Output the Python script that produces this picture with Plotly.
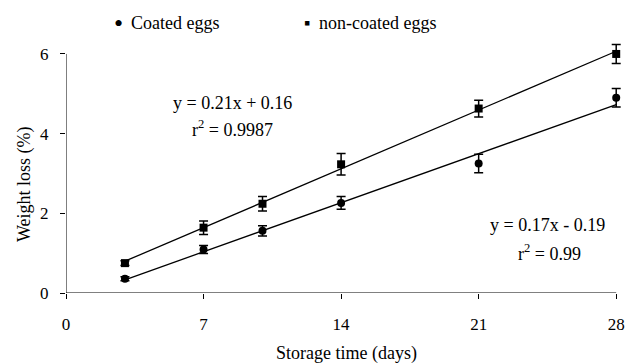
import numpy as np
import plotly.graph_objects as go

# ---- data ----
days = [3, 7, 10, 14, 21, 28]
coated = [0.36, 1.09, 1.56, 2.26, 3.25, 4.90]
coated_err = [0.05, 0.10, 0.13, 0.16, 0.23, 0.23]
non_coated = [0.75, 1.64, 2.24, 3.23, 4.63, 6.00]
non_coated_err = [0.06, 0.17, 0.18, 0.27, 0.21, 0.24]

x_ticks = [0, 7, 14, 21, 28]
y_ticks = [0, 2, 4, 6]

eq_non_coated = ["y = 0.21x + 0.16", "r<sup>2</sup> = 0.9987"]
eq_coated = ["y = 0.17x - 0.19", "r<sup>2</sup> = 0.99"]
series_names = ["Coated eggs", "non-coated eggs"]

FONT = "Liberation Serif, Times New Roman, serif"

# trendlines (least-squares fit of each series, as in the original spreadsheet)
xa = np.array(days, dtype=float)
fit_c = np.polyfit(xa, coated, 1)
fit_n = np.polyfit(xa, non_coated, 1)
x_line = np.array([days[0], days[-1]], dtype=float)

fig = go.Figure()

fig.add_trace(go.Scatter(
    x=x_line, y=np.polyval(fit_n, x_line), mode="lines",
    line=dict(color="black", width=1.3), showlegend=False, hoverinfo="skip"))
fig.add_trace(go.Scatter(
    x=x_line, y=np.polyval(fit_c, x_line), mode="lines",
    line=dict(color="black", width=1.3), showlegend=False, hoverinfo="skip"))

fig.add_trace(go.Scatter(
    x=days, y=non_coated, mode="markers", name=series_names[1],
    marker=dict(symbol="square", size=8, color="black"),
    error_y=dict(type="data", array=non_coated_err, color="black",
                 thickness=1.5, width=4.5),
    showlegend=False, cliponaxis=False))
fig.add_trace(go.Scatter(
    x=days, y=coated, mode="markers", name=series_names[0],
    marker=dict(symbol="circle", size=8, color="black"),
    error_y=dict(type="data", array=coated_err, color="black",
                 thickness=1.5, width=4.5),
    showlegend=False, cliponaxis=False))

X_MAX = 28.6
Y_MAX = 6.3
L, R, T, B = 66, 634 - (66 + 550 * X_MAX / 28), 42, 70
PW = 634 - L - R
PH = 363 - T - B


def px_x(p):
    return (p - L) / PW


def px_y(p):
    return (363 - B - p) / PH


txt = dict(family=FONT, size=18, color="black")
annotations = [
    # legend (as text, like the original)
    dict(xref="paper", yref="paper", x=px_x(118.5), y=px_y(23),
         xanchor="center", yanchor="middle", showarrow=False,
         text="•", font=dict(family=FONT, size=26, color="black")),
    dict(xref="paper", yref="paper", x=px_x(129), y=px_y(23),
         xanchor="left", yanchor="middle", showarrow=False,
         text=series_names[0], font=txt),
    dict(xref="paper", yref="paper", x=px_x(307), y=px_y(23),
         xanchor="center", yanchor="middle", showarrow=False,
         text="▪", font=txt),
    dict(xref="paper", yref="paper", x=px_x(317), y=px_y(23),
         xanchor="left", yanchor="middle", showarrow=False,
         text=series_names[1], font=txt),
    # equations
    dict(xref="paper", yref="paper", x=px_x(232), y=px_y(103),
         xanchor="center", yanchor="middle", showarrow=False,
         text=eq_non_coated[0], font=txt),
    dict(xref="paper", yref="paper", x=px_x(232), y=px_y(128),
         xanchor="center", yanchor="middle", showarrow=False,
         text=eq_non_coated[1], font=txt),
    dict(xref="paper", yref="paper", x=px_x(547), y=px_y(225),
         xanchor="center", yanchor="middle", showarrow=False,
         text=eq_coated[0], font=txt),
    dict(xref="paper", yref="paper", x=px_x(549), y=px_y(252),
         xanchor="center", yanchor="middle", showarrow=False,
         text=eq_coated[1], font=txt),
    # axis titles
    dict(xref="paper", yref="paper", x=px_x(25), y=px_y(184),
         xanchor="center", yanchor="middle", textangle=-90, showarrow=False,
         text="Weight loss (%)", font=txt),
    dict(xref="paper", yref="paper", x=px_x(346), y=px_y(353),
         xanchor="center", yanchor="middle", showarrow=False,
         text="Storage time (days)", font=txt),
]

shapes = [
    dict(type="line", xref="x", yref="y", x0=0, x1=28, y0=0, y1=0,
         line=dict(color="black", width=1)),
    dict(type="line", xref="x", yref="y", x0=0, x1=0, y0=0, y1=6,
         line=dict(color="black", width=1)),
]

fig.update_layout(
    width=634, height=363,
    margin=dict(l=L, r=R, t=T, b=B),
    paper_bgcolor="white", plot_bgcolor="white",
    showlegend=False,
    font=dict(family=FONT, size=17, color="black"),
    annotations=annotations,
    shapes=shapes,
    xaxis=dict(range=[0, X_MAX], tickvals=x_ticks, ticktext=[str(v) for v in x_ticks],
               showgrid=False, zeroline=False, showline=False,
               ticks="outside", ticklen=5, tickcolor="black", tickwidth=1,
               tickfont=dict(family=FONT, size=17, color="black"),
               ticklabelstandoff=11),
    yaxis=dict(range=[0, Y_MAX], tickvals=y_ticks, ticktext=[str(v) for v in y_ticks],
               showgrid=False, zeroline=False, showline=False,
               ticks="outside", ticklen=5, tickcolor="black", tickwidth=1,
               tickfont=dict(family=FONT, size=17, color="black"),
               ticklabelstandoff=8),
)

fig.write_html("out.html")
